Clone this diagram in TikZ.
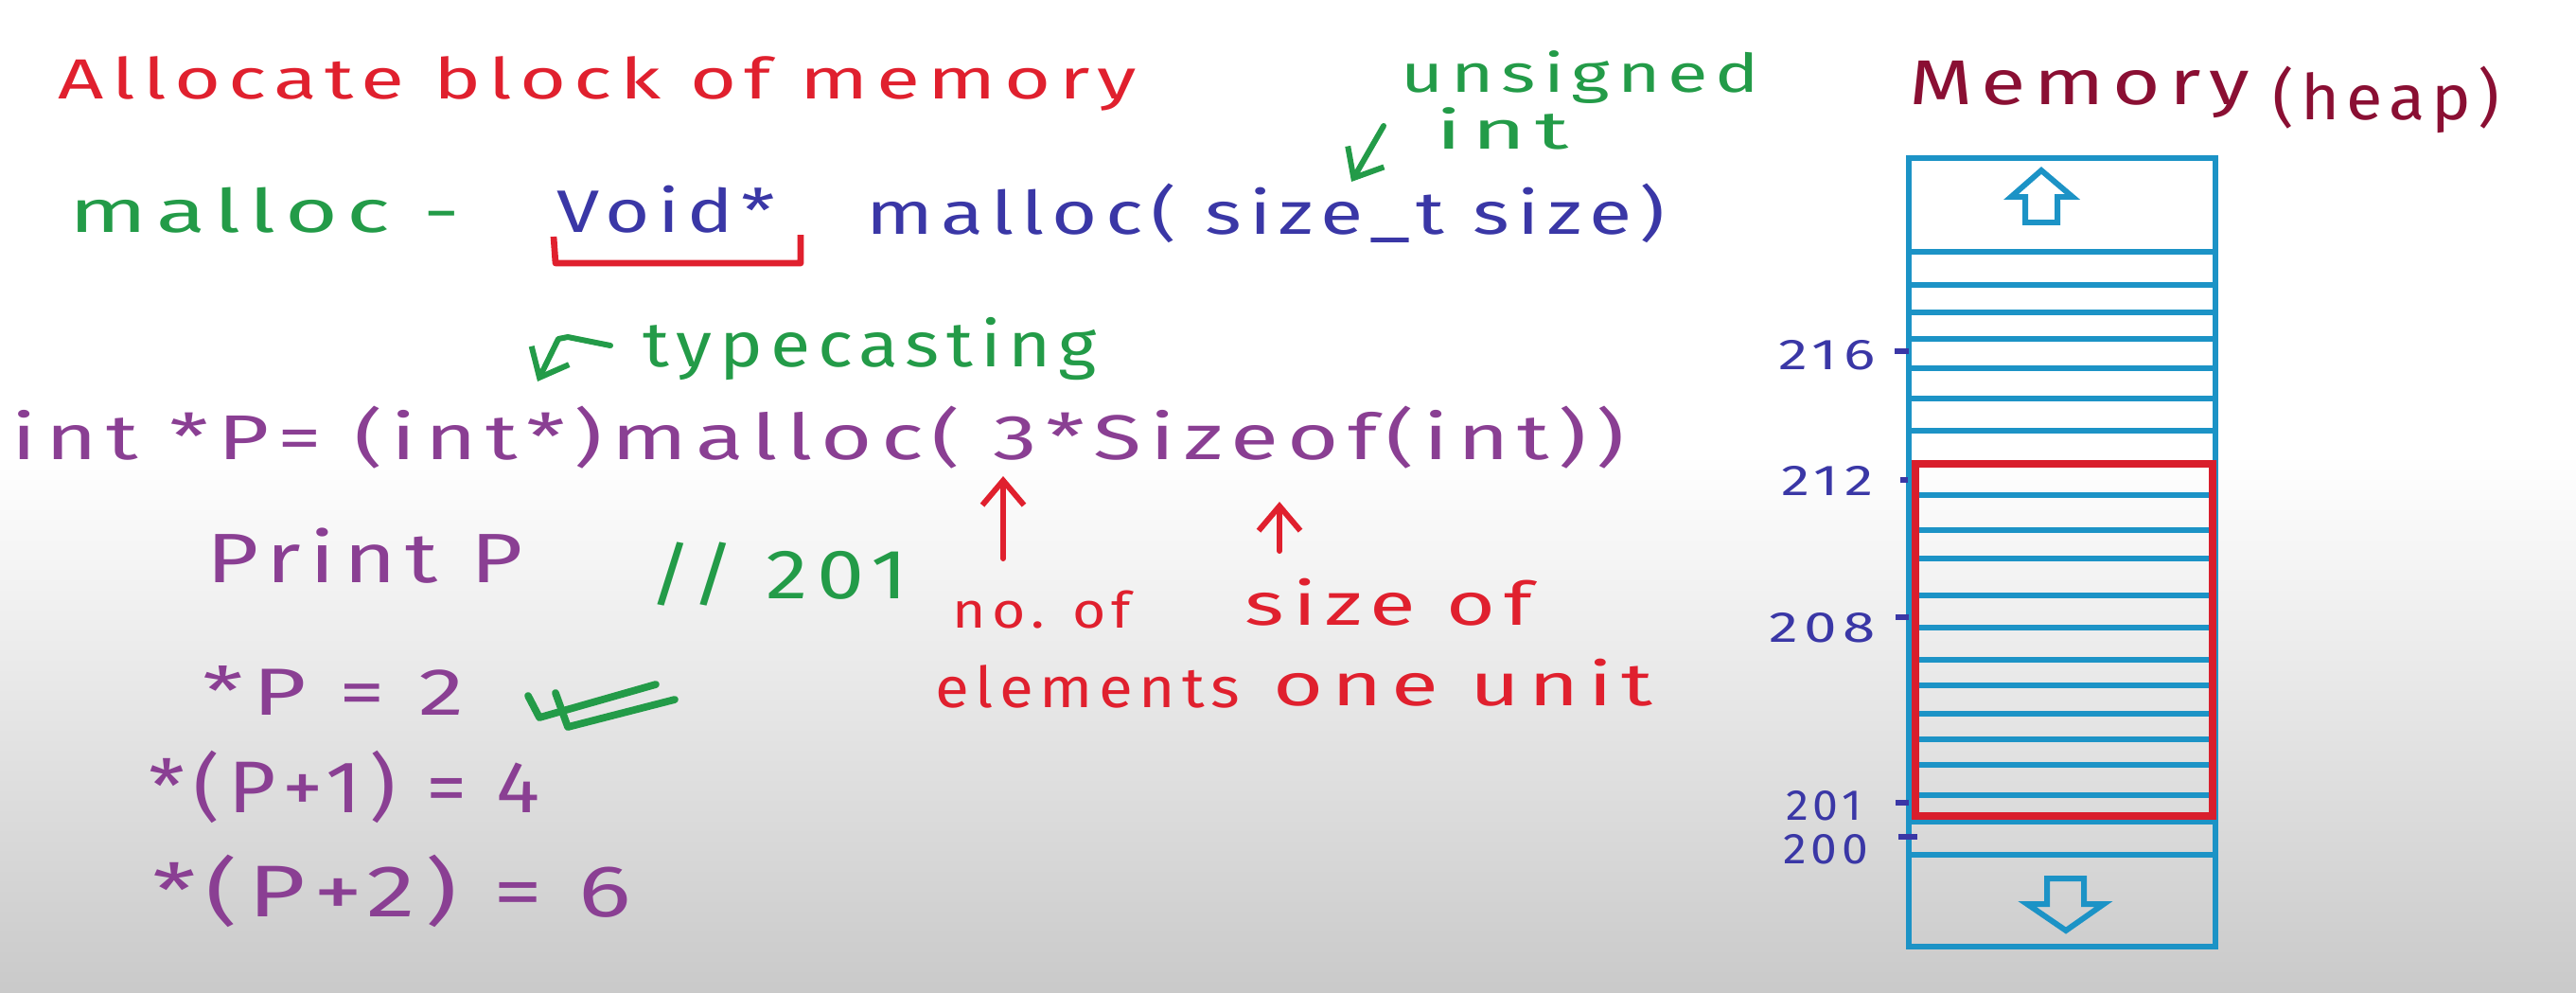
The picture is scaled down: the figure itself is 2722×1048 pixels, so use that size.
\documentclass[tikz,border=0pt]{standalone}
\usepackage{fontspec}
\usepackage{graphicx}
\usetikzlibrary{arrows.meta}
\newfontfamily\hand[LetterSpace=10]{Fira Sans}
\definecolor{inkred}{HTML}{E0202E}
\definecolor{inkgreen}{HTML}{239B48}
\definecolor{inkblue}{HTML}{3A37A6}
\definecolor{inkpurple}{HTML}{8A3F93}
\definecolor{inkmaroon}{HTML}{8A0F33}
\definecolor{memblue}{HTML}{1C93C6}
\definecolor{boxred}{HTML}{D91E2C}
% stretch a line of text to a given width, height kept
\newcommand{\fitw}[2]{\resizebox{#1}{\height}{#2}}
\begin{document}
\begin{tikzpicture}[x=0.01cm, y=-0.01cm,
  txt/.style={inner sep=0pt, anchor=base west},
  addr/.style={inner sep=0pt, anchor=base east, text=inkblue, font=\hand\fontsize{13}{15}\selectfont},
  arr/.style={line width=1.7pt, line cap=round, line join=round, -{Straight Barb[length=2.6mm,width=4.4mm]}},
  mem/.style={draw=memblue, line width=1.7pt},
  tick/.style={draw=inkblue, line width=1.8pt},
  ok/.style={draw=inkgreen, line width=2.2pt, line join=round, line cap=round}]
  \useasboundingbox (0,0) rectangle (2722,1048);
  % board
  \fill[white] (0,0) rectangle (2722,1048);
  \shade[top color=white, bottom color=gray!42] (0,480) rectangle (2722,1048);

  % heading and prototype
  \node[txt, text=inkred, font=\hand\fontsize{17}{20}\selectfont] (title) at (61,104) {\fitw{11.39cm}{Allocate block of memory}};
  \node[txt, text=inkgreen, font=\hand\fontsize{16}{19}\selectfont] (unsig) at (1480,97) {\fitw{3.78cm}{unsigned}};
  \node[txt, text=inkgreen, font=\hand\fontsize{16}{19}\selectfont] (uint) at (1517,157) {\fitw{1.40cm}{int}};
  \node[txt, text=inkgreen, font=\hand\fontsize{18}{22}\selectfont] (mlabel) at (73,245) {\fitw{4.12cm}{malloc -}};
  \node[txt, text=inkblue, font=\hand\fontsize{18}{22}\selectfont] (voidp) at (588,245) {\fitw{2.30cm}{Void*}};
  \node[txt, text=inkblue, font=\hand\fontsize{18}{22}\selectfont] (proto) at (915,247) {\fitw{8.43cm}{malloc( size\_t size)}};
  \coordinate (utail) at (1462,133);
  \coordinate (utip) at (1428,192);
  \draw[arr, draw=inkgreen] (utail) -- (utip);
  % bracket under Void*
  \draw[inkred, line width=1.9pt, line join=round] (585,250) -- (587,278) -- (846,278) -- (846,248);

  % call with cast
  \node[txt, text=inkgreen, font=\hand\fontsize{19}{22}\selectfont] (typecast) at (679,387) {\fitw{4.79cm}{typecasting}};
  \coordinate (ttail) at (645,365);
  \coordinate (ttip) at (568,403);
  \draw[arr, draw=inkgreen] (ttail) -- (600,356) -- (590,358) -- (ttip);
  \node[txt, text=inkpurple, font=\hand\fontsize{19}{22}\selectfont] (decl) at (12,485) {\fitw{17.03cm}{int *P= (int*)malloc( 3*Sizeof(int))}};
  \node[txt, text=inkpurple, font=\hand\fontsize{21}{24}\selectfont] (printp) at (218,615) {\fitw{3.34cm}{Print P}};
  \node[txt, text=inkgreen, font=\hand\fontsize{21}{24}\selectfont] (cmt) at (685,632) {\fitw{2.73cm}{// 201}};

  % notes under the call
  \node[txt, text=inkred, font=\hand\fontsize{15}{18}\selectfont] (noof) at (1006,663) {\fitw{1.88cm}{no. of}};
  \node[txt, text=inkred, font=\hand\fontsize{17}{20}\selectfont] (elems) at (988,747) {\fitw{3.21cm}{elements}};
  \node[txt, text=inkred, font=\hand\fontsize{18}{21}\selectfont] (sizeof) at (1315,660) {\fitw{3.03cm}{size of}};
  \node[txt, text=inkred, font=\hand\fontsize{18}{21}\selectfont] (unit) at (1345,745) {\fitw{4.00cm}{one unit}};
  \coordinate (ntail) at (1060,590);
  \coordinate (ntip) at (1060,503);
  \coordinate (stail) at (1352,582);
  \coordinate (stip) at (1352,530);
  \draw[arr, draw=inkred] (ntail) -- (ntip);
  \draw[arr, draw=inkred] (stail) -- (stip);

  % values
  \node[txt, text=inkpurple, font=\hand\fontsize{20}{23}\selectfont] (val0) at (214,755) {\fitw{2.76cm}{*P = 2}};
  \node[txt, text=inkpurple, font=\hand\fontsize{22}{25}\selectfont] (val1) at (157,858) {\fitw{4.13cm}{*(P+1) = 4}};
  \node[txt, text=inkpurple, font=\hand\fontsize{22}{25}\selectfont] (val2) at (161,968) {\fitw{5.05cm}{*(P+2) = 6}};
  \draw[ok] (558,735) -- (570,758) -- (693,723);
  \draw[ok] (587,732) -- (600,768) -- (713,739);

  % memory (heap)
  \node[txt, text=inkmaroon, font=\hand\fontsize{19}{22}\selectfont] (memtitle) at (2017,110) {\fitw{3.59cm}{Memory}};
  \node[txt, text=inkmaroon, font=\hand\fontsize{19}{22}\selectfont] (heap) at (2401,126) {\fitw{2.39cm}{(heap)}};
  \draw[mem] (2017,167) rectangle (2341,1000);
  \foreach \y in {266,301,330,358,389,421,455,523,560,590,629,663,697,724,754,781,808,840,868,903}
    \draw[mem] (2017,\y) -- (2341,\y);
  \draw[mem, line join=miter] (2157,180) -- (2190,208) -- (2174,208) -- (2174,235) -- (2140,235) -- (2140,208) -- (2125,208) -- cycle;
  \draw[mem, line join=miter] (2183,983) -- (2223,955) -- (2202,955) -- (2202,928) -- (2163,928) -- (2163,955) -- (2142,955) -- cycle;
  \draw[boxred, line width=2.4pt] (2024,490) rectangle (2338,862);

  % addresses
  \node[addr] (a216) at (1982,390) {\fitw{1.02cm}{216}};
  \node[addr] (a212) at (1980,523) {\fitw{0.97cm}{212}};
  \node[addr] (a208) at (1982,678) {\fitw{1.12cm}{208}};
  \node[addr] (a201) at (1968,866) {\fitw{0.80cm}{201}};
  \node[addr] (a200) at (1975,912) {\fitw{0.90cm}{200}};
  \draw[tick] (2002,371) -- (2017,371);
  \draw[tick] (2008,507) -- (2016,507);
  \draw[tick] (2003,652) -- (2017,652);
  \draw[tick] (2003,848) -- (2017,848);
  \draw[tick] (2006,884) -- (2026,884);
\end{tikzpicture}
\end{document}
